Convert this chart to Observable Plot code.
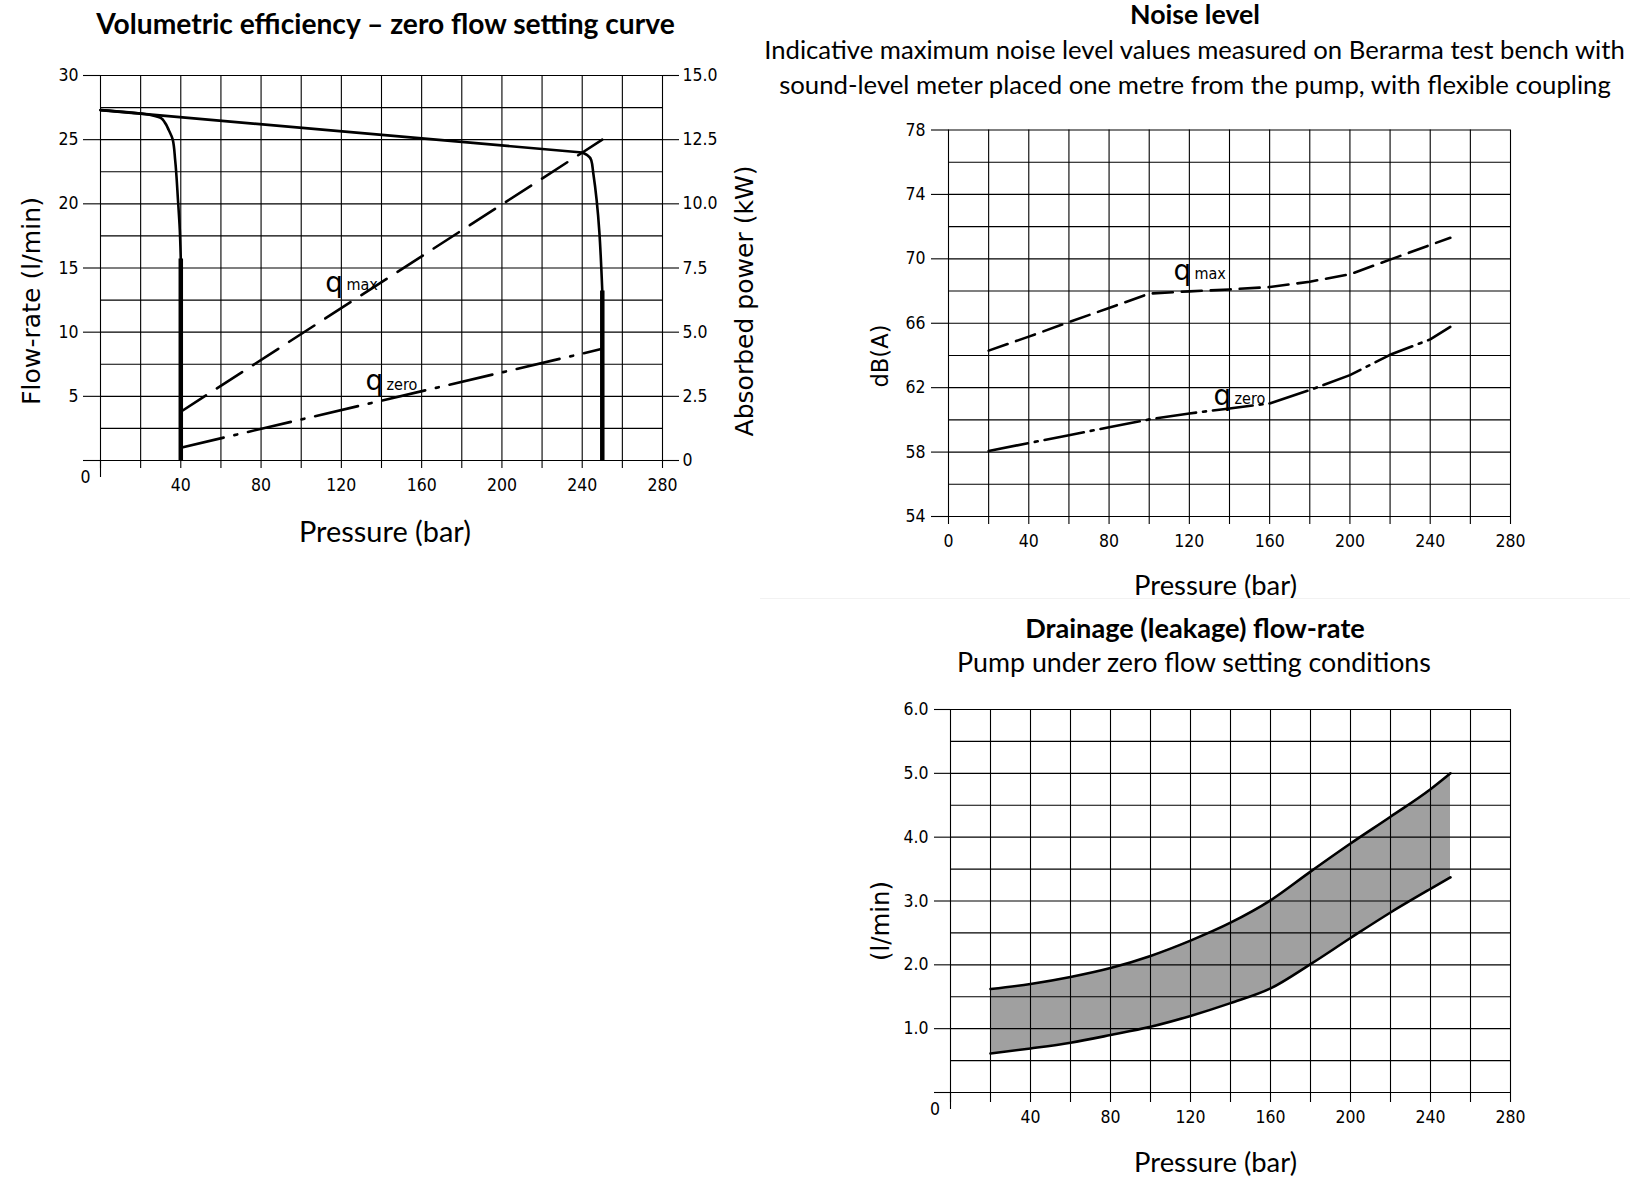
<!DOCTYPE html>
<html><head><meta charset="utf-8">
<script src="https://cdn.jsdelivr.net/npm/d3@7"></script>
<script src="https://cdn.jsdelivr.net/npm/@observablehq/plot@0.6"></script>
<style>
html,body{margin:0;padding:0;background:#fff;overflow:hidden;}
#page{position:relative;width:1630px;height:1204px;background:#fff;}
.t{position:absolute;white-space:nowrap;color:#000;line-height:1;}
#page > svg{position:absolute;overflow:visible;}
</style></head><body><div id="page"></div>
<script>
// ---------------- DATA ----------------
const pressureTicks = [0,20,40,60,80,100,120,140,160,180,200,220,240,260,280];
const pressureLabelsLeft = ["","","40","","80","","120","","160","","200","","240","","280"];
const pressureLabelsRight = ["0","","40","","80","","120","","160","","200","","240","","280"];

// Volumetric efficiency chart
const flowTicks = [0,5,10,15,20,25,30];
const flowLabels = ["","5","10","15","20","25","30"];
const flowGrid = [0,2.5,5,7.5,10,12.5,15,17.5,20,22.5,25,27.5,30];
const powerLabels = ["0","2.5","5.0","7.5","10.0","12.5","15.0"];
const powerMax = 15, flowMax = 30;

const maxFlowP = [0, 240];
const maxFlowQ = [27.3, 24.0];
const lowSetP = [0, 22, 27, 30, 32, 34, 36, 37.2, 38.6, 39.5, 40];
const lowSetQ = [27.3, 27.0, 26.85, 26.7, 26.35, 25.75, 25.0, 23.4, 20.3, 18.0, 15.7];
const highSetP = [240, 242.5, 244.5, 245.5, 250];
const highSetQ = [24.0, 23.8, 23.4, 22.4, 13.2];
const zeroFlowP = [40, 250];
const zeroFlowTop = [15.7, 13.2];
const powerMaxP = [40, 250];
const powerMaxKW = [1.9, 12.5];
const powerZeroP = [40, 250];
const powerZeroKW = [0.5, 4.35];
const leftQ = [{p:112, v:13.86}, {p:132, v:6.23}];
const leftSub = [{t:"max", p:122.5, v:13.7}, {t:"zero", p:142.5, v:5.92}];

// Noise level chart
const dbTicks = [54,58,62,66,70,74,78];
const dbGrid = [54,56,58,60,62,64,66,68,70,72,74,76,78];
const noiseP = [20, 40, 60, 80, 100, 120, 140, 160, 180, 200, 220, 240, 250];
const noiseMax = [64.3, 65.17, 66.07, 66.95, 67.84, 67.98, 68.1, 68.25, 68.58, 69.04, 69.95, 70.86, 71.31];
const noiseZero = [58.07, 58.56, 59.05, 59.54, 60.03, 60.4, 60.71, 61.02, 61.85, 62.78, 64.04, 65.0, 65.77];
const noiseQ = [{p:112.1, v:69.27}, {p:132, v:61.45}];
const noiseSub = [{t:"max", p:122.5, v:69.08}, {t:"zero", p:142.5, v:61.33}];

// Drainage chart
const drainTicks = [0,1,2,3,4,5,6];
const drainLabels = ["","1.0","2.0","3.0","4.0","5.0","6.0"];
const drainGrid = [0,0.5,1,1.5,2,2.5,3,3.5,4,4.5,5,5.5,6];
const drainP = [20, 40, 60, 80, 100, 120, 140, 160, 180, 200, 220, 240, 250];
const drainHigh = [1.62, 1.70, 1.81, 1.95, 2.14, 2.38, 2.66, 3.01, 3.46, 3.90, 4.32, 4.75, 5.0];
const drainLow = [0.61, 0.69, 0.78, 0.90, 1.03, 1.20, 1.40, 1.63, 2.01, 2.42, 2.82, 3.19, 3.37];

// ---------------- HELPERS ----------------
const page = document.getElementById("page");
const rows = (xs, ys) => xs.map((x, i) => ({x, y: ys[i]}));
const labelOf = (ticks, labels) => d => labels[ticks.indexOf(d)] ?? "";
const TICKFONT = "'DejaVu Sans Condensed','DejaVu Sans',sans-serif";
const QFONT = "'DejaVu Sans',sans-serif";

function place(svg, left, top) {
  svg.style.left = left + "px"; svg.style.top = top + "px";
  page.appendChild(svg);
}
function text(str, {cx, cy, width, size, weight = "normal", family = "Lato,'Open Sans',sans-serif", rotate = 0}) {
  const d = document.createElement("div");
  d.className = "t";
  d.textContent = str;
  d.style.fontFamily = family;
  d.style.fontWeight = weight;
  d.style.fontSize = size + "px";
  page.appendChild(d);
  if (width) {
    const w = d.getBoundingClientRect().width;
    d.style.fontSize = (size * width / w) + "px";
  }
  d.style.left = cx + "px";
  d.style.top = cy + "px";
  d.style.transform = `translate(-50%,-50%) rotate(${rotate}deg)`;
  return d;
}

const gridStyle = {stroke: "#000", strokeWidth: 1.1};
const plotStyle = {fontFamily: TICKFONT, fontSize: "17.5px", color: "#000", background: "transparent", overflow: "visible"};

// ---------------- CHART 1: Volumetric efficiency ----------------
const chart1 = Plot.plot({
  width: 760, height: 560,
  marginLeft: 100, marginRight: 98, marginTop: 75, marginBottom: 100,
  x: {domain: [0, 280]},
  y: {domain: [0, flowMax]},
  style: plotStyle,
  marks: [
    Plot.ruleX(pressureTicks, gridStyle),
    Plot.ruleY(flowGrid, gridStyle),
    Plot.axisY(flowTicks, {anchor: "left", tickSize: 17, tickPadding: 5, tickFormat: labelOf(flowTicks, flowLabels), label: null, strokeWidth: 1.1}),
    Plot.axisY(flowTicks, {anchor: "right", tickSize: 16, tickPadding: 4, tickFormat: labelOf(flowTicks, powerLabels), label: null, strokeWidth: 1.1}),
    Plot.axisX(pressureTicks, {anchor: "bottom", tickSize: 8, tickPadding: 10, tickFormat: labelOf(pressureTicks, pressureLabelsLeft), label: null, strokeWidth: 1.1}),
    Plot.axisX([0], {anchor: "bottom", tickSize: 17, tickFormat: () => "", label: null, strokeWidth: 1.1}),
    Plot.text(["0"], {x: 0, y: 0, text: d => d, dx: -15, dy: 17}),
    Plot.line(rows(maxFlowP, maxFlowQ), {x: "x", y: "y", stroke: "#000", strokeWidth: 2.6}),
    Plot.line(rows(lowSetP, lowSetQ), {x: "x", y: "y", stroke: "#000", strokeWidth: 2.6, curve: "monotone-y"}),
    Plot.line(rows(highSetP, highSetQ), {x: "x", y: "y", stroke: "#000", strokeWidth: 2.6, curve: "monotone-y"}),
    Plot.ruleX(rows(zeroFlowP, zeroFlowTop), {x: "x", y1: 0, y2: "y", stroke: "#000", strokeWidth: 4.5}),
    Plot.line(rows(powerMaxP, powerMaxKW), {x: "x", y: d => d.y * flowMax / powerMax, stroke: "#000", strokeWidth: 2.6, strokeDasharray: "30,13"}),
    Plot.line(rows(powerZeroP, powerZeroKW), {x: "x", y: d => d.y * flowMax / powerMax, stroke: "#000", strokeWidth: 2.6, strokeDasharray: "44,11,3,11"}),
    Plot.text(leftQ, {x: "p", y: "v", text: () => "q", fontSize: 28, textAnchor: "start", fontFamily: QFONT}),
    Plot.text(leftSub, {x: "p", y: "v", text: "t", fontSize: 16, textAnchor: "start", fontFamily: TICKFONT})
  ]
});
place(chart1, 0, 0);

// ---------------- CHART 2: Noise level ----------------
const chart2 = Plot.plot({
  width: 760, height: 520,
  marginLeft: 128, marginRight: 70, marginTop: 29.5, marginBottom: 104,
  x: {domain: [0, 280]},
  y: {domain: [54, 78]},
  style: plotStyle,
  marks: [
    Plot.ruleX(pressureTicks, gridStyle),
    Plot.ruleY(dbGrid, gridStyle),
    Plot.axisY(dbTicks, {anchor: "left", tickSize: 17, tickPadding: 6, label: null, strokeWidth: 1.1}),
    Plot.axisX(pressureTicks, {anchor: "bottom", tickSize: 8, tickPadding: 10.5, tickFormat: labelOf(pressureTicks, pressureLabelsRight), label: null, strokeWidth: 1.1}),
    Plot.line(rows(noiseP, noiseMax), {x: "x", y: "y", stroke: "#000", strokeWidth: 2.6, strokeDasharray: "20,9"}),
    Plot.line(rows(noiseP, noiseZero), {x: "x", y: "y", stroke: "#000", strokeWidth: 2.6, strokeDasharray: "40,7,3,7"}),
    Plot.text(noiseQ, {x: "p", y: "v", text: () => "q", fontSize: 28, textAnchor: "start", fontFamily: QFONT}),
    Plot.text(noiseSub, {x: "p", y: "v", text: "t", fontSize: 16, textAnchor: "start", fontFamily: TICKFONT})
  ]
});
place(chart2, 820, 100);

// ---------------- CHART 3: Drainage ----------------
const drainRows = drainP.map((p, i) => ({p, lo: drainLow[i], hi: drainHigh[i]}));
const chart3 = Plot.plot({
  width: 760, height: 520,
  marginLeft: 130, marginRight: 70, marginTop: 29, marginBottom: 108,
  x: {domain: [0, 280]},
  y: {domain: [0, 6]},
  style: plotStyle,
  marks: [
    Plot.areaY(drainRows, {x: "p", y1: "lo", y2: "hi", fill: "#a0a0a0", curve: "monotone-x"}),
    Plot.ruleX(pressureTicks, gridStyle),
    Plot.ruleY(drainGrid, gridStyle),
    Plot.axisY(drainTicks, {anchor: "left", tickSize: 16, tickPadding: 6, tickFormat: labelOf(drainTicks, drainLabels), label: null, strokeWidth: 1.1}),
    Plot.axisX(pressureTicks, {anchor: "bottom", tickSize: 10, tickPadding: 8.5, tickFormat: labelOf(pressureTicks, pressureLabelsLeft), label: null, strokeWidth: 1.1}),
    Plot.axisX([0], {anchor: "bottom", tickSize: 17, tickFormat: () => "", label: null, strokeWidth: 1.1}),
    Plot.text(["0"], {x: 0, y: 0, text: d => d, dx: -15.5, dy: 17}),
    Plot.line(rows(drainP, drainHigh), {x: "x", y: "y", stroke: "#000", strokeWidth: 2.6, curve: "monotone-x"}),
    Plot.line(rows(drainP, drainLow), {x: "x", y: "y", stroke: "#000", strokeWidth: 2.6, curve: "monotone-x"})
  ]
});
place(chart3, 820, 680);

// ---------------- TEXTS ----------------
text("Volumetric efficiency \u2013 zero flow setting curve", {cx: 385.5, cy: 23, width: 579, size: 26, weight: "bold"});
text("Pressure (bar)", {cx: 385, cy: 531, width: 172, size: 26});
text("Flow-rate  (l/min)", {cx: 32, cy: 301, width: 208, size: 24, family: QFONT, rotate: -90});
text("Absorbed power (kW)", {cx: 745, cy: 301, width: 271, size: 24, family: QFONT, rotate: -90});

text("Noise level", {cx: 1195, cy: 14, width: 130, size: 26, weight: "bold"});
text("Indicative maximum noise level values measured on Berarma test bench with", {cx: 1194.5, cy: 50, width: 861, size: 25});
text("sound-level meter placed one metre from the pump, with flexible coupling", {cx: 1195, cy: 85, width: 832, size: 25});
text("dB(A)", {cx: 880, cy: 356, width: 63, size: 24, family: QFONT, rotate: -90});
text("Pressure (bar)", {cx: 1215.5, cy: 585, width: 163, size: 26});

const sep = document.createElement("div");
sep.style.cssText = "position:absolute;left:760px;top:598px;width:870px;height:1px;background:#f2f2f2;";
page.appendChild(sep);

text("Drainage (leakage) flow-rate", {cx: 1195, cy: 628, width: 340, size: 26, weight: "bold"});
text("Pump under zero flow setting conditions", {cx: 1194, cy: 662, width: 474, size: 25});
text("(l/min)", {cx: 881, cy: 921, width: 80, size: 24, family: QFONT, rotate: -90});
text("Pressure (bar)", {cx: 1215.5, cy: 1162, width: 163, size: 26});
</script>
</body></html>
